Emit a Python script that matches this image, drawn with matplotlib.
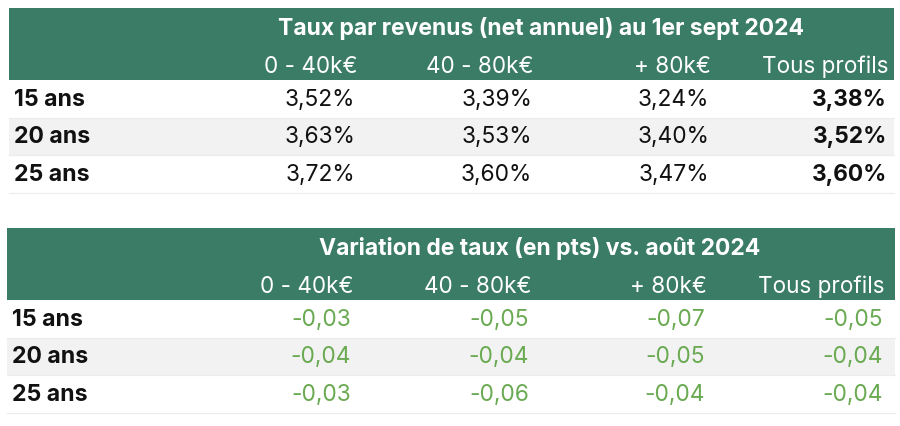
import matplotlib.pyplot as plt
from matplotlib.patches import Rectangle

plt.rcParams['font.family'] = ['Inter', 'DejaVu Sans']

durees = ["15 ans", "20 ans", "25 ans"]
colonnes = ["0 - 40k€", "40 - 80k€", "+ 80k€", "Tous profils"]

titre_taux = "Taux par revenus (net annuel) au 1er sept 2024"
taux = [
    [3.52, 3.39, 3.24, 3.38],
    [3.63, 3.53, 3.40, 3.52],
    [3.72, 3.60, 3.47, 3.60],
]

titre_var = "Variation de taux (en pts) vs. août 2024"
variation = [
    [-0.03, -0.05, -0.07, -0.05],
    [-0.04, -0.04, -0.05, -0.04],
    [-0.03, -0.06, -0.04, -0.04],
]

GREEN = "#3b7c67"
VAL_GREEN = "#6aaa52"
STRIPE = "#f2f2f2"


def fr(v, nd=2):
    return f"{v:.{nd}f}".replace(".", ",")


fig = plt.figure(figsize=(9, 4.26), dpi=100)
ax = fig.add_axes([0, 0, 1, 1])
ax.set_xlim(0, 900)
ax.set_ylim(426, 0)
ax.axis("off")


def draw_table(top, x0, x1, title, data, fmt, color, bold_last, col_x, title_x):
    head_h = 72
    row_h = 37.5
    ax.add_patch(Rectangle((x0, top), x1 - x0, head_h, color=GREEN, lw=0))
    ax.text(title_x, top + 20, title, color="white", fontsize=16.5,
            fontweight="bold", ha="center", va="center")
    for cx, c in zip(col_x, colonnes):
        ax.text(cx, top + 59, c, color="white", fontsize=16.2,
                ha="right", va="center")
    y = top + head_h
    for i, (lab, row) in enumerate(zip(durees, data)):
        if i % 2 == 1:
            ax.add_patch(Rectangle((x0, y), x1 - x0, row_h, color=STRIPE, lw=0))
        ax.plot([x0, x1], [y + row_h, y + row_h], color="#ececec", lw=0.8)
        ax.text(x0 + 5, y + row_h / 2 + 1, lab, fontsize=16.6, fontweight="bold",
                color="#111111", ha="left", va="center")
        for j, (cx, v) in enumerate(zip(col_x, row)):
            w = "bold" if (bold_last and j == len(row) - 1) else "normal"
            ax.text(cx - 2, y + row_h / 2 + 1, fmt(v), fontsize=16.4, fontweight=w,
                    color=color, ha="right", va="center")
        y += row_h


draw_table(8, 9, 894, titre_taux, taux, lambda v: fr(v) + "%", "#111111",
           True, [357, 534, 711, 889], 541)
draw_table(228, 7, 895, titre_var, variation, fr, VAL_GREEN,
           False, [353, 531, 707, 885], 540)

fig.savefig("out.png", dpi=100)
